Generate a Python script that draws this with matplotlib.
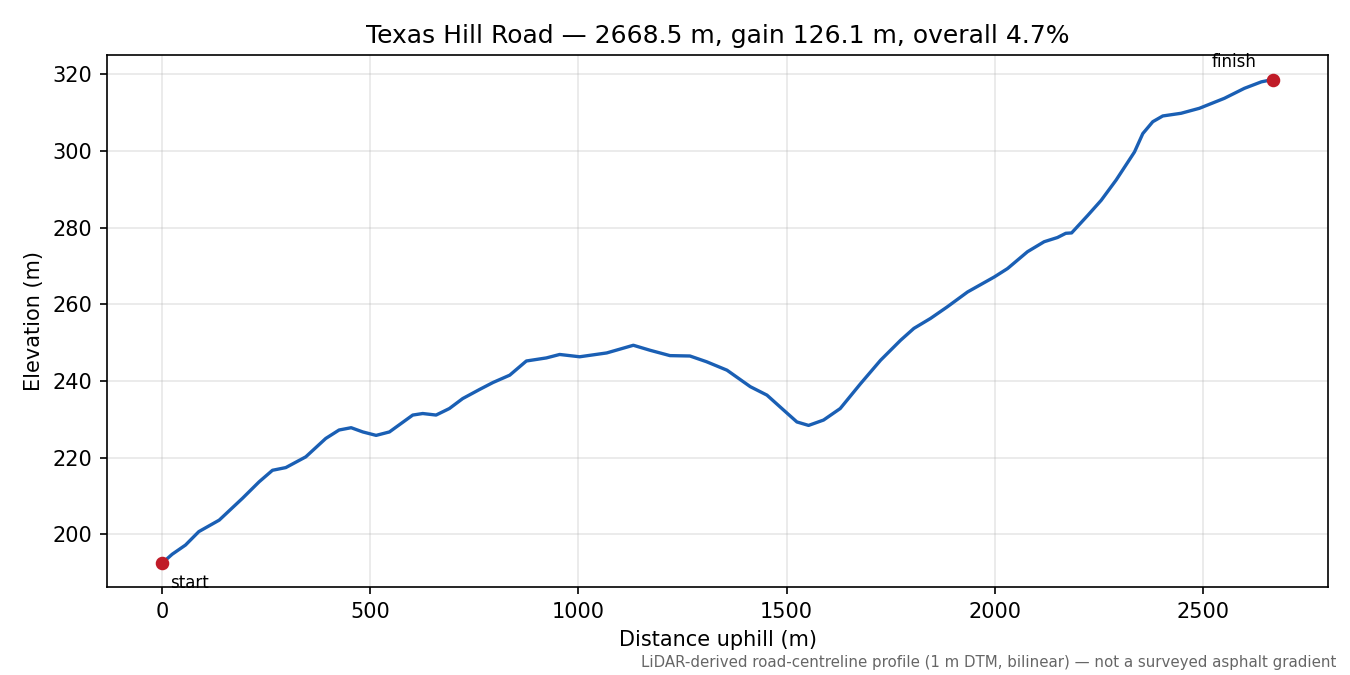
import matplotlib
matplotlib.use("Agg")
import matplotlib.pyplot as plt

# profile (distance uphill m, elevation m)
dist = [0, 24, 56, 88, 137, 193, 233, 265, 297, 345, 393, 425, 454, 482, 514,
        546, 602, 626, 658, 690, 722, 763, 795, 835, 875, 923, 955, 1003, 1068,
        1132, 1172, 1220, 1268, 1308, 1357, 1413, 1453, 1493, 1525, 1553, 1589,
        1629, 1678, 1726, 1774, 1806, 1846, 1886, 1935, 1999, 2031, 2079, 2119,
        2151, 2171, 2185, 2224, 2256, 2292, 2336, 2356, 2380, 2404, 2448, 2492,
        2552, 2600, 2641, 2668.5]
elev = [192.5, 194.8, 197.2, 200.7, 203.7, 209.4, 213.7, 216.7, 217.4, 220.2,
        225.0, 227.2, 227.8, 226.7, 225.8, 226.7, 231.1, 231.5, 231.1, 232.8,
        235.4, 237.8, 239.6, 241.5, 245.2, 246.0, 246.9, 246.3, 247.3, 249.3,
        248.0, 246.6, 246.5, 245.0, 242.8, 238.5, 236.3, 232.4, 229.3, 228.4,
        229.8, 232.8, 239.3, 245.4, 250.6, 253.7, 256.3, 259.3, 263.2, 267.1,
        269.3, 273.7, 276.3, 277.4, 278.5, 278.6, 283.2, 287.1, 292.4, 299.7,
        304.5, 307.6, 309.1, 309.8, 311.1, 313.7, 316.3, 318.0, 318.6]

title = "Texas Hill Road \u2014 2668.5 m, gain 126.1 m, overall 4.7%"
note = "LiDAR-derived road-centreline profile (1 m DTM, bilinear) \u2014 not a surveyed asphalt gradient"

fig, ax = plt.subplots(figsize=(9, 4.5), dpi=150)
ax.plot(dist, elev, color="#1a5fb4", lw=1.6)
ax.plot([dist[0], dist[-1]], [elev[0], elev[-1]], "o", color="#c01c28", ms=5.5, zorder=3)
ax.annotate("start", (dist[0], elev[0]), xytext=(4, -12), textcoords="offset points", fontsize=8)
ax.annotate("finish", (dist[-1], elev[-1]), xytext=(-8, 6), textcoords="offset points",
            fontsize=8, ha="right")
ax.set_xlabel("Distance uphill (m)")
ax.set_ylabel("Elevation (m)")
ax.set_title(title, fontsize=12)
ax.grid(alpha=0.3)
fig.text(0.99, 0.012, note, ha="right", fontsize=7.2, color="0.4")
fig.subplots_adjust(left=0.079, right=0.984, top=0.918, bottom=0.13)
fig.savefig("out.png")
